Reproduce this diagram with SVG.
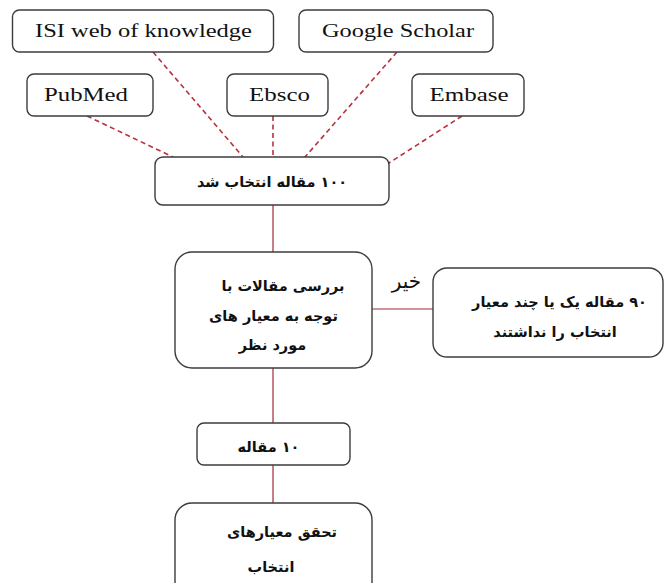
<svg xmlns="http://www.w3.org/2000/svg" width="665" height="583" viewBox="0 0 665 583">
<style>
.box{fill:#fff;stroke:#3c3c3c;stroke-width:1.4}
.en{font-family:"Liberation Serif","Times New Roman",serif;font-size:19px;fill:#111;text-anchor:middle}
.fa{font-family:"DejaVu Sans",sans-serif;font-size:14.5px;font-weight:bold;fill:#111;text-anchor:middle;direction:rtl}
.lbl{font-family:"DejaVu Sans",sans-serif;font-size:20px;fill:#111;text-anchor:middle;direction:rtl}
.dash{stroke:#b8303c;stroke-width:1.6;stroke-dasharray:5,3.5;fill:none}
.solid{stroke:#9e2a35;stroke-width:1.2;fill:none}
</style>
<rect width="665" height="583" fill="#fff"/>
<g id="connectors">
<line class="dash" x1="87" y1="116" x2="173" y2="157"/>
<line class="dash" x1="153" y1="52" x2="243" y2="157"/>
<line class="dash" x1="273" y1="116" x2="273" y2="157"/>
<line class="dash" x1="397" y1="52" x2="305" y2="157"/>
<line class="dash" x1="462" y1="116" x2="389" y2="163"/>
<line class="solid" x1="273" y1="205" x2="273" y2="252"/>
<line class="solid" x1="372" y1="309" x2="433" y2="309"/>
<line class="solid" x1="273" y1="368" x2="273" y2="423"/>
<line class="solid" x1="273" y1="465" x2="273" y2="503"/>
</g>
<g id="isi"><rect class="box" x="12.5" y="10" width="261" height="42" rx="7"/><text class="en" x="143.5" y="37" textLength="217" lengthAdjust="spacingAndGlyphs">ISI web of knowledge</text></g>
<g id="google"><rect class="box" x="299" y="10" width="194" height="42" rx="7"/><text class="en" x="398" y="37" textLength="152" lengthAdjust="spacingAndGlyphs">Google Scholar</text></g>
<g id="pubmed"><rect class="box" x="27" y="74" width="126" height="42" rx="7"/><text class="en" x="86" y="101" textLength="84" lengthAdjust="spacingAndGlyphs">PubMed</text></g>
<g id="ebsco"><rect class="box" x="227" y="74" width="101" height="42" rx="7"/><text class="en" x="279.5" y="101" textLength="61" lengthAdjust="spacingAndGlyphs">Ebsco</text></g>
<g id="embase"><rect class="box" x="412" y="74" width="112" height="42" rx="7"/><text class="en" x="469" y="101" textLength="79" lengthAdjust="spacingAndGlyphs">Embase</text></g>
<g id="selected100"><rect class="box" x="155" y="157" width="234" height="48" rx="8"/><text class="fa" x="272" y="187">۱۰۰ مقاله انتخاب شد</text></g>
<g id="review"><rect class="box" x="175" y="252" width="197" height="116" rx="17"/>
<text class="fa" x="283" y="291">بررسی مقالات با</text>
<text class="fa" x="273.5" y="321">توجه به معیار های</text>
<text class="fa" x="272.5" y="350">مورد نظر</text></g>
<g id="excluded90"><rect class="box" x="433" y="268" width="230" height="89" rx="14"/>
<text class="fa" x="559.5" y="307">۹۰ مقاله یک یا چند معیار</text>
<text class="fa" x="555" y="337">انتخاب را نداشتند</text></g>
<g id="label-no"><text class="lbl" x="406.5" y="288">خیر</text></g>
<g id="articles10"><rect class="box" x="197" y="423" width="153" height="42" rx="7"/><text class="fa" x="268.5" y="452">۱۰ مقاله</text></g>
<g id="criteria"><rect class="box" x="175" y="503" width="197" height="100" rx="17"/>
<text class="fa" x="282" y="537">تحقق معیارهای</text>
<text class="fa" x="271" y="572">انتخاب</text></g>
</svg>
